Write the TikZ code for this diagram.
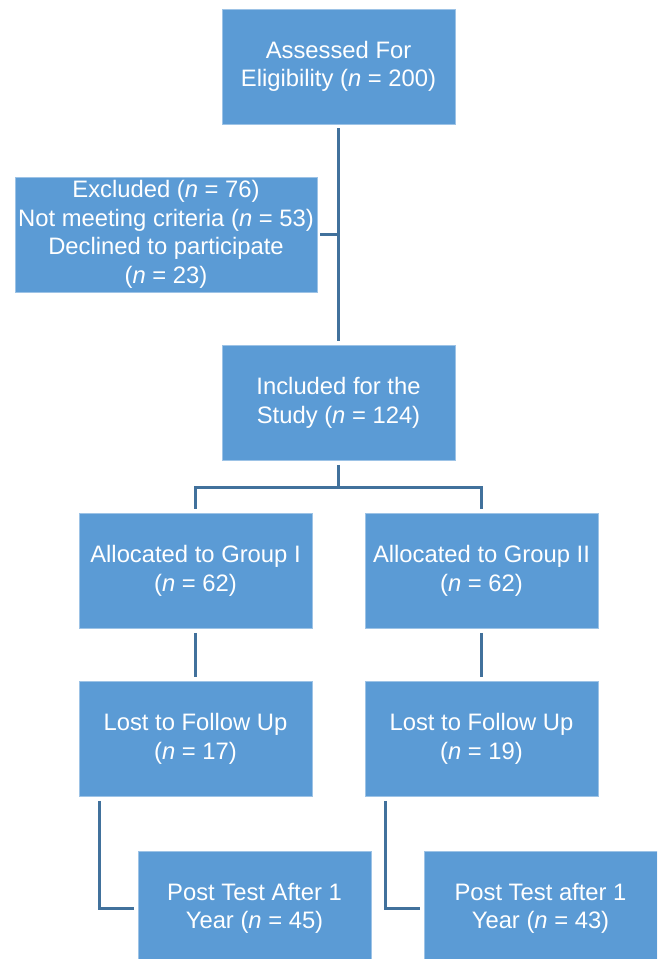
\documentclass[tikz,border=0pt]{standalone}
\usepackage{fontspec}
\setmainfont{Liberation Sans}
\definecolor{boxfill}{HTML}{5B9BD5}
\definecolor{boxedge}{HTML}{9DC3E6}
\definecolor{conncol}{HTML}{41719C}
\begin{document}
\begin{tikzpicture}[x=1pt,y=-1pt,
  box/.style={rectangle, fill=boxfill, draw=boxedge, line width=0.8pt,
    minimum width=233pt, minimum height=115pt, inner sep=1pt,
    text=white, align=center, font=\fontsize{23.8}{28.5}\selectfont},
  conn/.style={draw=conncol, line width=3pt}]
\useasboundingbox (0,0) rectangle (657,959);
\clip (0,0) rectangle (657,959);
\node[box] (a) at (338.5,66.5) {Assessed For\\Eligibility (\textit{n} = 200)};
\node[box, minimum width=302pt] (ex) at (166,234.5) {Excluded (\textit{n} = 76)\\Not meeting criteria (\textit{n} = 53)\\Declined to participate\\(\textit{n} = 23)};
\node[box] (inc) at (338.5,403) {Included for the\\Study (\textit{n} = 124)};
\node[box] (g1) at (195.5,571) {Allocated to Group I\\(\textit{n} = 62)};
\node[box] (g2) at (481.5,571) {Allocated to Group II\\(\textit{n} = 62)};
\node[box] (l1) at (195.5,739) {Lost to Follow Up\\(\textit{n} = 17)};
\node[box] (l2) at (481.5,739) {Lost to Follow Up\\(\textit{n} = 19)};
\node[box] (p1) at (254.5,908.5) {Post Test After 1\\Year (\textit{n} = 45)};
\node[box] (p2) at (540.5,908.5) {Post Test after 1\\Year (\textit{n} = 43)};
\coordinate (j) at (338.5,487);
\draw[conn, shorten <=4pt, shorten >=4pt] (a.south) -- (inc.north);
\draw[conn, shorten <=3pt] (ex.east) -- (ex.east -| a.south);
\draw[conn, shorten <=4pt] (inc.south) -- (j);
\draw[conn, shorten >=4pt] (j) -| (g1.north);
\draw[conn, shorten >=4pt] (j) -| (g2.north);
\draw[conn, shorten <=4pt, shorten >=4pt] (g1.south) -- (l1.north);
\draw[conn, shorten <=4pt, shorten >=4pt] (g2.south) -- (l2.north);
\draw[conn, shorten <=4pt, shorten >=4pt] ([xshift=21pt]l1.south west) |- (p1.west);
\draw[conn, shorten <=4pt, shorten >=4pt] ([xshift=21pt]l2.south west) |- (p2.west);
\end{tikzpicture}
\end{document}
